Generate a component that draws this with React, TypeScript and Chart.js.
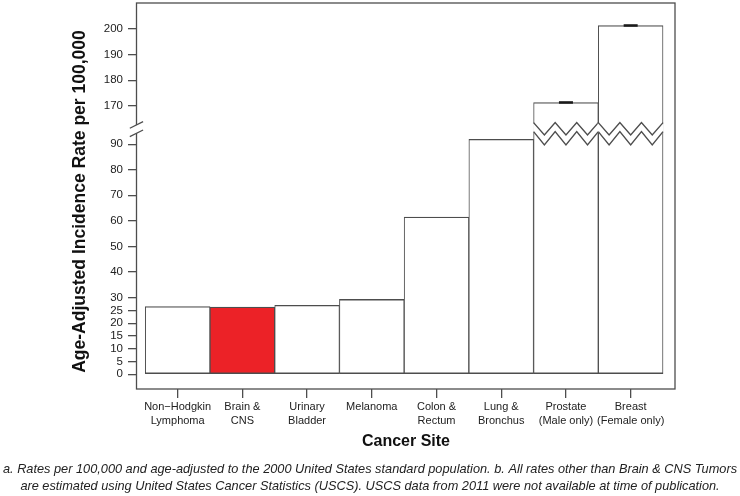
import React, { useEffect, useRef } from "react";
import { Chart, registerables, LinearScale } from "chart.js";

// ---------- data ----------
const categories = [
  ["Non\u2212Hodgkin", "Lymphoma"],
  ["Brain &", "CNS"],
  ["Urinary", "Bladder"],
  ["Melanoma"],
  ["Colon &", "Rectum"],
  ["Lung &", "Bronchus"],
  ["Prostate", "(Male only)"],
  ["Breast", "(Female only)"],
];
const rates = [26.5, 26.3, 27.0, 29.3, 61.5, 91.9, 171.3, 201.4];
const ciLow: (number | null)[] = [null, null, null, null, null, null, 170.8, 200.9];
const ciHigh: (number | null)[] = [null, null, null, null, null, null, 171.8, 201.9];
const highlightIndex = 1;
const yTickValues = [0, 5, 10, 15, 20, 25, 30, 40, 50, 60, 70, 80, 90, 170, 180, 190, 200];
const yMin = -5.75;
const yMax = 210.2;
const breakLow = 100;
const breakHigh = 170;
const breakSpan = 5;

const yTitle = "Age-Adjusted Incidence Rate per 100,000";
const xTitle = "Cancer Site";
const footnote = [
  "a. Rates per 100,000 and age-adjusted to the 2000 United States standard population. b. All rates other than Brain & CNS Tumors",
  "are estimated using United States Cancer Statistics (USCS). USCS data from 2011 were not available at time of publication.",
];

// ---------- broken axis transform ----------
function fwd(v: number) {
  if (v <= breakLow) return v;
  if (v >= breakHigh) return v - (breakHigh - breakLow) + breakSpan;
  return breakLow + ((v - breakLow) * breakSpan) / (breakHigh - breakLow);
}
function inv(d: number) {
  if (d <= breakLow) return d;
  if (d >= breakLow + breakSpan) return d + (breakHigh - breakLow) - breakSpan;
  return breakLow + ((d - breakLow) * (breakHigh - breakLow)) / breakSpan;
}

class BrokenScale extends LinearScale {
  static id = "broken";
  static defaults = {};
  buildTicks() {
    return yTickValues.map((v) => ({ value: v }));
  }
  getPixelForValue(value: any) {
    if (value === null || value === undefined || isNaN(value)) return NaN;
    const a = fwd(this.min), b = fwd(this.max);
    return this.getPixelForDecimal((fwd(value) - a) / (b - a));
  }
  getValueForPixel(pixel: number) {
    const a = fwd(this.min), b = fwd(this.max);
    return inv(a + this.getDecimalForPixel(pixel) * (b - a));
  }
}

Chart.register(...registerables, BrokenScale as any);

const LINE = "#4d4d4d";
const FONT = "'Liberation Sans', Arial, sans-serif";

const overlay = {
  id: "overlay",
  afterDatasetsDraw(chart: any) {
    const { ctx, chartArea: a, scales } = chart;
    const x = scales.x, y = scales.y;
    ctx.save();
    // zigzag breaks on tall bars
    const p90 = y.getPixelForValue(90);
    const uPk = p90 - 21.5, uVl = p90 - 9.2, lPk = p90 - 12.5, lVl = p90 + 0.8;
    rates.forEach((v, i) => {
      if (v <= breakLow) return;
      const l = x.getPixelForValue(i - 0.5);
      const r = x.getPixelForValue(i + 0.5);
      const n = 6;
      const up: [number, number][] = [];
      const lo: [number, number][] = [];
      for (let k = 0; k <= n; k++) {
        const px = l + ((r - l) * k) / n;
        up.push([px, k % 2 === 0 ? uPk : uVl]);
        lo.push([px, k % 2 === 0 ? lPk : lVl]);
      }
      ctx.beginPath();
      up.forEach(([px, py], k) => (k === 0 ? ctx.moveTo(px - 0.5, py) : ctx.lineTo(px + (k === n ? 0.5 : 0), py)));
      for (let k = n; k >= 0; k--) ctx.lineTo(lo[k][0] + (k === n ? 0.5 : k === 0 ? -0.5 : 0), lo[k][1]);
      ctx.closePath();
      ctx.fillStyle = "#ffffff";
      ctx.fill();
      ctx.strokeStyle = LINE;
      ctx.lineWidth = 1.4;
      ctx.beginPath();
      up.forEach(([px, py], k) => (k === 0 ? ctx.moveTo(px, py) : ctx.lineTo(px, py)));
      ctx.stroke();
      ctx.beginPath();
      lo.forEach(([px, py], k) => (k === 0 ? ctx.moveTo(px, py) : ctx.lineTo(px, py)));
      ctx.stroke();
    });
    // confidence intervals
    ctx.fillStyle = "#1a1a1a";
    rates.forEach((_, i) => {
      const lo = ciLow[i], hi = ciHigh[i];
      if (lo == null || hi == null) return;
      const cx = x.getPixelForValue(i);
      const y1 = y.getPixelForValue(hi), y2 = y.getPixelForValue(lo);
      ctx.fillRect(cx - 7, y1, 14, Math.max(2, y2 - y1));
    });
    // frame
    ctx.strokeStyle = LINE;
    ctx.lineWidth = 1.3;
    ctx.strokeRect(a.left - 0.5, a.top, a.right - a.left + 0.5, a.bottom - a.top);
    // axis break mark
    const bx = a.left - 0.5;
    const bTop = p90 - 22.5, gap = 8.4;
    ctx.beginPath();
    ctx.moveTo(bx - 6.7, bTop + 6.6);
    ctx.lineTo(bx + 6.6, bTop);
    ctx.lineTo(bx + 6.6, bTop + gap);
    ctx.lineTo(bx - 6.7, bTop + 6.6 + gap);
    ctx.closePath();
    ctx.fillStyle = "#ffffff";
    ctx.fill();
    ctx.lineWidth = 1.2;
    ctx.beginPath();
    ctx.moveTo(bx - 6.7, bTop + 6.6);
    ctx.lineTo(bx + 6.6, bTop);
    ctx.moveTo(bx - 6.7, bTop + 6.6 + gap);
    ctx.lineTo(bx + 6.6, bTop + gap);
    ctx.stroke();
    ctx.restore();
  },
  afterDraw(chart: any) {
    const { ctx, chartArea: a } = chart;
    ctx.save();
    ctx.fillStyle = "#111";
    ctx.textAlign = "center";
    ctx.textBaseline = "middle";
    // y title fitted to length
    ctx.font = `bold 17px ${FONT}`;
    const w = ctx.measureText(yTitle).width;
    const fs = (17 * 343) / w;
    ctx.font = `bold ${fs.toFixed(2)}px ${FONT}`;
    ctx.save();
    ctx.translate(80, 201.5);
    ctx.rotate(-Math.PI / 2);
    ctx.fillText(yTitle, 0, 0);
    ctx.restore();
    // x title
    ctx.font = `bold 16px ${FONT}`;
    ctx.fillText(xTitle, (a.left + a.right) / 2, 442);
    // footnote
    ctx.fillStyle = "#222";
    ctx.font = `italic 12px ${FONT}`;
    const fw = ctx.measureText(footnote[0]).width;
    const ffs = (12 * 734) / fw;
    ctx.font = `italic ${ffs.toFixed(2)}px ${FONT}`;
    ctx.fillText(footnote[0], 370, 469);
    ctx.fillText(footnote[1], 370, 486);
    ctx.restore();
  },
};

export default function App() {
  const ref = useRef<HTMLCanvasElement>(null);
  useEffect(() => {
    if (!ref.current) return;
    const chart = new Chart(ref.current, {
      type: "bar",
      data: {
        datasets: [
          {
            data: rates.map((v, i) => ({ x: i, y: v })) as any,
            backgroundColor: rates.map((_, i) => (i === highlightIndex ? "#ec2227" : "#ffffff")),
            borderColor: LINE,
            borderWidth: { top: 1.4, bottom: 1.4, left: 1, right: 1 } as any,
            borderSkipped: false as any,
            barPercentage: 1,
            categoryPercentage: 1,
          },
        ],
      },
      options: {
        responsive: false,
        animation: false,
        devicePixelRatio: 1,
        layout: { padding: { top: 3, right: 65, left: 0, bottom: 0 } },
        plugins: { legend: { display: false }, tooltip: { enabled: false } },
        scales: {
          x: {
            type: "linear",
            min: -0.628,
            max: 7.685,
            offset: false,
            afterBuildTicks: (s: any) => {
              s.ticks = categories.map((_, i) => ({ value: i }));
            },
            afterFit: (s: any) => {
              s.height = 107;
              s.paddingLeft = 0;
              s.paddingRight = 0;
            },
            border: { display: false },
            grid: { offset: false, drawOnChartArea: false, drawTicks: true, tickLength: 9, color: LINE, lineWidth: 1.3 },
            ticks: {
              autoSkip: false,
              maxRotation: 0,
              padding: 2,
              color: "#222",
              font: { family: FONT, size: 11, lineHeight: 1.27 },
              callback: (v: any) => categories[Math.round(Number(v))] as any,
            },
          },
          y: {
            type: "broken" as any,
            min: yMin,
            max: yMax,
            afterFit: (s: any) => {
              s.width = 137;
              s.paddingTop = 0;
              s.paddingBottom = 0;
            },
            border: { display: false },
            grid: { drawOnChartArea: false, drawTicks: true, tickLength: 9, color: LINE, lineWidth: 1.3 },
            ticks: {
              autoSkip: false,
              padding: 5,
              color: "#222",
              font: { family: FONT, size: 11.5 },
              callback: (v: any) => String(v),
            },
          },
        },
      },
      plugins: [overlay],
    } as any);
    return () => chart.destroy();
  }, []);
  return (
    <div style={{ position: "absolute", left: 0, top: 0, width: 740, height: 496, background: "#fff" }}>
      <canvas ref={ref} width={740} height={496} style={{ width: 740, height: 496, display: "block" }} />
    </div>
  );
}
